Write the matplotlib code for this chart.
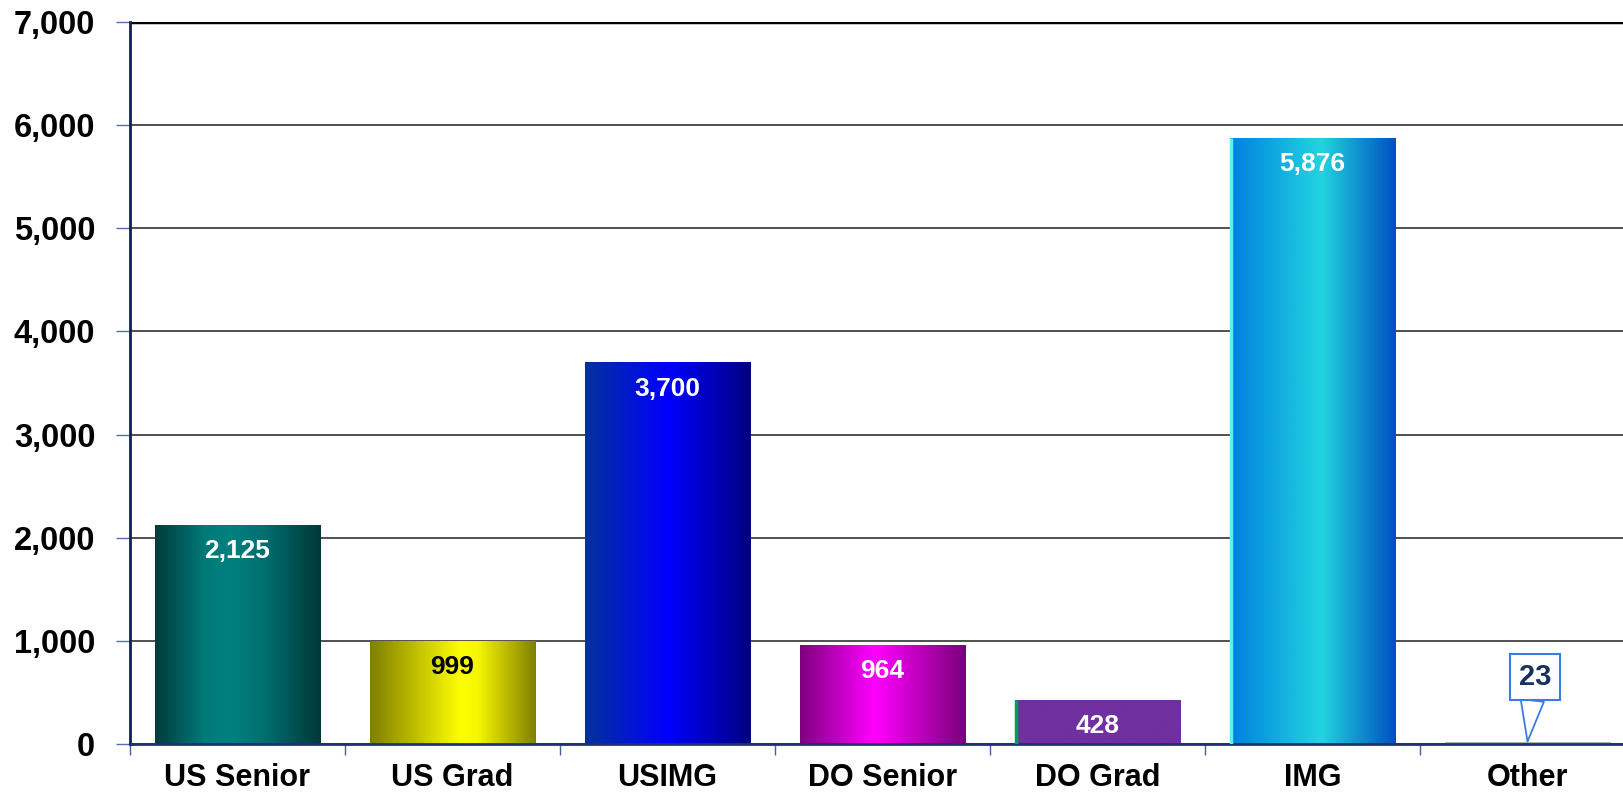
import numpy as np
import matplotlib.pyplot as plt
from matplotlib.colors import LinearSegmentedColormap

plt.rcParams['font.family'] = ['Liberation Sans', 'DejaVu Sans']

categories = ['US Senior', 'US Grad', 'USIMG', 'DO Senior', 'DO Grad', 'IMG', 'Other']
values = [2125, 999, 3700, 964, 428, 5876, 23]
label_colors = ['white', 'black', 'white', 'white', 'white', 'white', '#1a3060']

# horizontal gradient stops for each bar
gradients = [
    [(0, '#003c3c'), (0.3, '#007a78'), (0.45, '#008080'), (0.65, '#007070'), (1, '#003838')],
    [(0, '#7f7f00'), (0.55, '#ffff00'), (0.65, '#f6f600'), (1, '#808000')],
    [(0, '#003399'), (0.5, '#0000ff'), (1, '#000080')],
    [(0, '#800080'), (0.45, '#ff00ff'), (1, '#7a007a')],
    [(0, '#7030a0'), (1, '#7030a0')],
    [(0, '#0080e0'), (0.55, '#22d4e0'), (1, '#0050c0')],
    [(0, '#b0b0b0'), (1, '#b0b0b0')],
]
edge_lines = {4: '#00a050', 5: '#60f0f0'}

fig = plt.figure(figsize=(16.23, 7.97), dpi=100)
ax = fig.add_axes([130 / 1623, 53 / 797, 1 - 130 / 1623, (744 - 22) / 797])

x = np.arange(len(categories))
bars = ax.bar(x, values, width=0.77, color='none', zorder=2)

grad = np.linspace(0, 1, 256).reshape(1, -1)
for i, rect in enumerate(bars):
    cmap = LinearSegmentedColormap.from_list('g%d' % i, gradients[i])
    x0, w, h = rect.get_x(), rect.get_width(), rect.get_height()
    im = ax.imshow(grad, cmap=cmap, extent=[x0, x0 + w, 0, h], aspect='auto',
                   zorder=2, interpolation='bicubic')
    im.set_clip_path(rect)
    if i in edge_lines:
        ax.vlines(x0 + 0.006, 0, h, color=edge_lines[i], lw=2.5, zorder=3)

for i, v in enumerate(values[:-1]):
    ax.annotate(f'{v:,}', (x[i], v), xytext=(0, -19), textcoords='offset points',
                ha='center', va='center', fontsize=19, fontweight='bold',
                color=label_colors[i], zorder=4)

# callout for the tiny last bar
ax.annotate(f'{values[-1]:,}', (x[-1], values[-1]), xytext=(x[-1] + 0.035, 650),
            ha='center', va='center', fontsize=21, fontweight='bold',
            color=label_colors[-1], zorder=5,
            bbox=dict(boxstyle='square,pad=0.3', fc='white', ec='#3a7be8', lw=1.5),
            arrowprops=dict(arrowstyle='wedge,tail_width=0.8,shrink_factor=0.5',
                            fc='white', ec='#3a7be8', lw=1.3, shrinkA=0, shrinkB=0))

ax.set_ylim(0, 7000)
ax.set_yticks(np.arange(0, 7001, 1000))
ax.set_yticklabels([f'{t:,}' for t in range(0, 7001, 1000)])
ax.yaxis.grid(True, color='#505050', lw=1.4, zorder=0)
ax.set_axisbelow(True)
ax.axhline(7000, color='black', lw=2.5, zorder=1)

ax.set_xticks(x)
ax.set_xticklabels(categories)
ax.set_xticks(np.arange(-0.5, 7, 1), minor=True)
ax.set_xlim(-0.5, 6.5 - 12 / 215)
ax.tick_params(axis='x', which='major', length=0, pad=14, labelsize=22)
ax.tick_params(axis='x', which='minor', length=8, width=1, color='#4060a0', direction='out')
ax.tick_params(axis='y', length=10, width=1, color='#5070b0', pad=15, labelsize=23.5)
for lab in ax.get_xticklabels() + ax.get_yticklabels():
    lab.set_fontweight('bold')

for s in ['top', 'right']:
    ax.spines[s].set_visible(False)
ax.spines['left'].set_color('#102050')
ax.spines['left'].set_linewidth(2)
ax.spines['bottom'].set_color('#203070')
ax.spines['bottom'].set_linewidth(2)

fig.savefig('out.png', dpi=100)
